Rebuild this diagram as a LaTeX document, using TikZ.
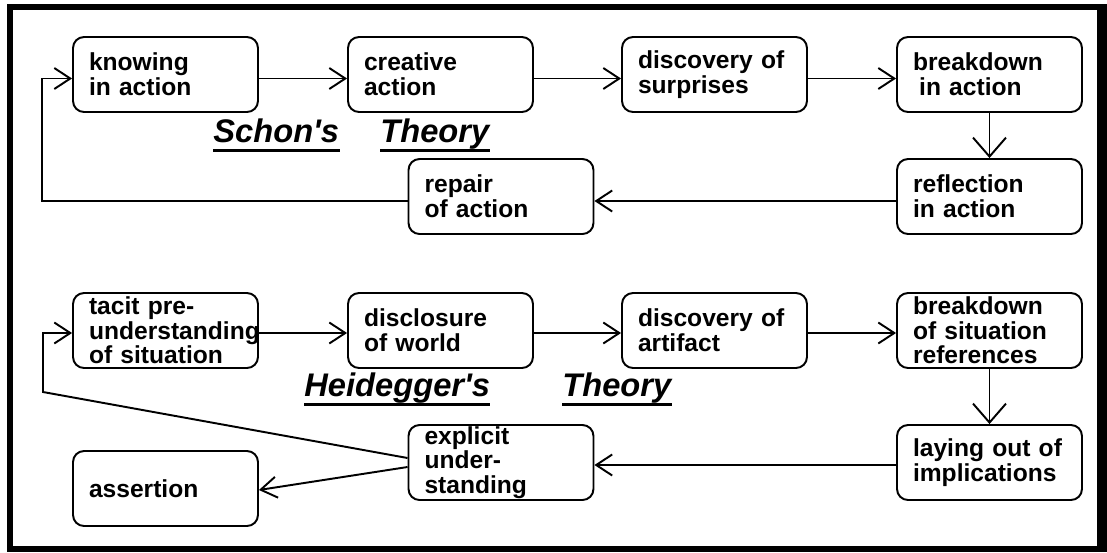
\documentclass[tikz,border=0pt]{standalone}
\usepackage{fontspec}
\setmainfont{Liberation Sans}
\usepackage{tikz}
\usetikzlibrary{arrows.meta}

\newcommand{\bxfont}{\fontsize{14}{14}\selectfont\bfseries\hyphenpenalty=10000 }
\newcommand{\ttlfont}{\fontsize{18.6}{20}\selectfont\bfseries\itshape}

\begin{document}
\begin{tikzpicture}[x=0.02cm, y=-0.02cm,
  box/.style={draw, line width=1.1pt, rounded corners=0.22cm, minimum width=3.7cm,
    minimum height=1.5cm, text width=3.06cm, inner xsep=0.32cm, inner ysep=0pt,
    align=left, font=\bxfont},
  arr/.style={line width=1.1pt, -{Straight Barb[length=0.32cm, width=0.42cm]}},
  darr/.style={line width=1.1pt, -{Straight Barb[length=0.38cm, width=0.66cm]}},
  ttl/.style={anchor=base west, inner sep=0pt, font=\ttlfont},
  uline/.style={line width=2pt}]
  \useasboundingbox (0,0) rectangle (1107,552);

  % frame with shadow
  \fill (7,4) rectangle (1107,552);
  \fill[white] (13,10) rectangle (1097,546);

  % Schon: first row
  \node[box] (ka) at (165.5,74.5) {knowing\\in action};
  \node[box] (ca) at (440.5,74.5) {creative\\action};
  \node[box] (ds) at (714.5,74.5) {discovery of\\surprises};
  \node[box] (ba) at (989.5,74.5) {breakdown\\\hspace*{0.25em}in action};

  % Schon: second row
  \node[box] (rp) at (501,196.5) {repair\\of action};
  \node[box] (ra) at (989.5,196.5) {reflection\\in action};

  % title
  \node[ttl] (sch) at (213,142) {Schon\textquotesingle s};
  \node[ttl] (sth) at (380,142) {Theory};
  \draw[uline] ([yshift=-0.17cm]sch.base west) -- ([yshift=-0.17cm]sch.base east);
  \draw[uline] ([yshift=-0.17cm]sth.base west) -- ([yshift=-0.17cm]sth.base east);

  % Schon: arrows
  \draw[arr] ([yshift=-0.08cm]ka.east) -- ([yshift=-0.08cm]ca.west);
  \draw[arr] ([yshift=-0.08cm]ca.east) -- ([yshift=-0.08cm]ds.west);
  \draw[arr] ([yshift=-0.08cm]ds.east) -- ([yshift=-0.08cm]ba.west);
  \draw[darr] (ba.south) -- (ra.north);
  \draw[arr] ([yshift=-0.09cm]ra.west) -- ([yshift=-0.09cm]rp.east);
  \draw[arr] ([yshift=-0.09cm]rp.west) -| ([xshift=-0.6cm,yshift=-0.08cm]ka.west) -- ([yshift=-0.08cm]ka.west);

  % Heidegger: first row
  \node[box] (tp) at (165.5,330.5) {tacit pre-\\understanding\\of situation};
  \node[box] (dw) at (440.5,330.5) {disclosure\\of world};
  \node[box] (df) at (714.5,330.5) {discovery of\\artifact};
  \node[box] (bs) at (989.5,330.5) {breakdown\\of situation\\references};

  % Heidegger: second row
  \node[box] (as) at (165.5,488.5) {assertion};
  \node[box] (eu) at (501,462.5) {explicit\\under-\\standing};
  \node[box] (lo) at (989.5,462.5) {laying out of\\implications};

  % title
  \node[ttl] (hei) at (304,396) {Heidegger\textquotesingle s};
  \node[ttl] (hth) at (562,396) {Theory};
  \draw[uline] ([yshift=-0.17cm]hei.base west) -- ([yshift=-0.17cm]hei.base east);
  \draw[uline] ([yshift=-0.17cm]hth.base west) -- ([yshift=-0.17cm]hth.base east);

  % Heidegger: arrows
  \draw[arr] ([yshift=-0.05cm]tp.east) -- ([yshift=-0.05cm]dw.west);
  \draw[arr] ([yshift=-0.05cm]dw.east) -- ([yshift=-0.05cm]df.west);
  \draw[arr] ([yshift=-0.05cm]df.east) -- ([yshift=-0.05cm]bs.west);
  \draw[darr] (bs.south) -- (lo.north);
  \draw[arr] ([yshift=-0.05cm]lo.west) -- ([yshift=-0.05cm]eu.east);
  \coordinate (bend) at (43,392);
  \draw[arr] ([yshift=0.09cm]eu.west) -- (bend) |- ([yshift=-0.05cm]tp.west);
  \draw[arr] ([yshift=-0.09cm]eu.west) -- ([yshift=-0.03cm]as.east);

\end{tikzpicture}
\end{document}
